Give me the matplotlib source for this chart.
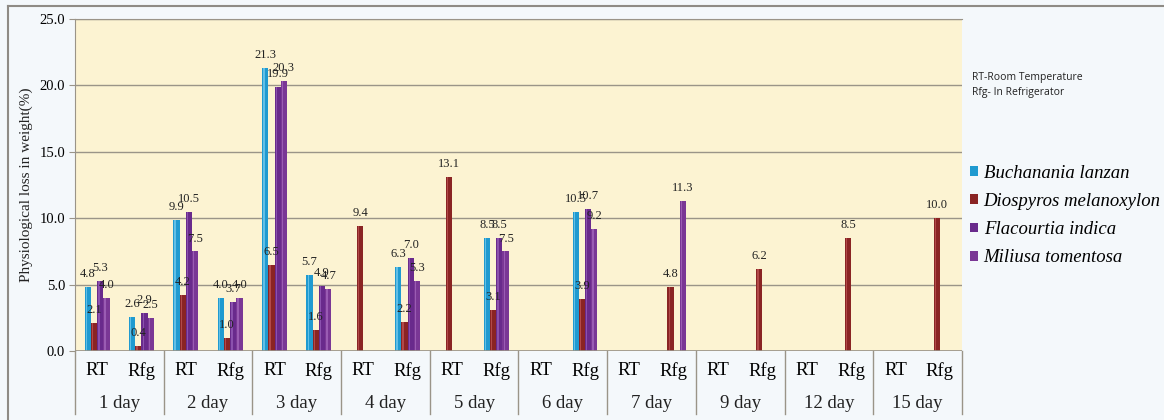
import numpy as np
import matplotlib.pyplot as plt
from matplotlib.lines import Line2D
from matplotlib.patches import Patch
import matplotlib.transforms as mtransforms

# storage days and conditions
days = ['1 day', '2 day', '3 day', '4 day', '5 day', '6 day', '7 day', '9 day', '12 day', '15 day']
conditions = ['RT', 'Rfg']

# weight loss (%) per day/condition, RT then Rfg; None = not recorded
buchanania = [4.8, 2.6, 9.9, 4.0, 21.3, 5.7, None, 6.3, None, 8.5,
              None, 10.5, None, None, None, None, None, None, None, None]
diospyros = [2.1, 0.4, 4.2, 1.0, 6.5, 1.6, 9.4, 2.2, 13.1, 3.1,
             None, 3.9, None, 4.8, None, 6.2, None, 8.5, None, 10.0]
flacourtia = [5.3, 2.9, 10.5, 3.7, 19.9, 4.9, None, 7.0, None, 8.5,
              None, 10.7, None, None, None, None, None, None, None, None]
miliusa = [4.0, 2.5, 7.5, 4.0, 20.3, 4.7, None, 5.3, None, 7.5,
           None, 9.2, None, 11.3, None, None, None, None, None, None]

species = ['Buchanania lanzan', 'Diospyros melanoxylon', 'Flacourtia indica', 'Miliusa tomentosa']
series = [buchanania, diospyros, flacourtia, miliusa]
colors = ['#1f9ad0', '#8a2424', '#692a8c', '#7a3795']
highlights = ['#7fd0f0', '#c45a5a', '#9a62bd', '#a86cc0']

serif = ['Liberation Serif', 'DejaVu Serif']

fig = plt.figure(figsize=(11.64, 4.2), dpi=100, facecolor='#f4f8fb')
ax = fig.add_axes([0.0644, 0.164, 0.762, 0.791])
ax.set_facecolor('#fcf3d2')

n = len(days) * len(conditions)
x = np.arange(n)
w = 0.14

for k, (vals, c, hc) in enumerate(zip(series, colors, highlights)):
    h = np.array([np.nan if v is None else v for v in vals], dtype=float)
    xs = x + (k - 1.5) * w
    ax.bar(xs, h, width=w, color=c, edgecolor='none', zorder=3)
    # lighter strip for a rounded look
    ax.bar(xs - w * 0.22, h, width=w * 0.22, color=hc, edgecolor='none', alpha=0.7, zorder=3)
    for xi, v in zip(xs, vals):
        if v is None:
            continue
        ax.annotate(f'{v:.1f}', (xi, v), xytext=(0, 5), textcoords='offset points',
                    ha='center', va='bottom', fontsize=9, family=serif, color='#222222', zorder=5)

ax.set_xlim(-0.5, n - 0.5)
ax.set_ylim(0, 25)
ax.set_yticks(np.arange(0, 26, 5))
ax.set_yticklabels([f'{t:.1f}' for t in np.arange(0, 26, 5)], family=serif, fontsize=10.5)
ax.yaxis.grid(True, color='#9a9488', linewidth=1.0, zorder=0)
ax.tick_params(axis='y', length=4, color='#9a9488', pad=3)
ax.set_ylabel('Physiological loss in weight(%)', family=serif, fontsize=11,
              color='#222222', labelpad=5)

for side in ['right', 'bottom']:
    ax.spines[side].set_visible(False)
ax.spines['top'].set_color('#9a9488')
ax.spines['left'].set_color('#9a9488')
ax.axhline(0, color='#9a9488', linewidth=1.2, zorder=4)

# two-level category axis
ax.set_xticks(x)
ax.set_xticklabels(conditions * len(days), family=serif, fontsize=13.5)
ax.tick_params(axis='x', length=0, pad=8)
trans = mtransforms.blended_transform_factory(ax.transData, ax.transAxes)
for i, d in enumerate(days):
    ax.text(2 * i + 0.5, -0.158, d, transform=trans, ha='center', va='center',
            family=serif, fontsize=13.5, color='#222222')
for b in range(len(days) + 1):
    ax.add_line(Line2D([2 * b - 0.5, 2 * b - 0.5], [0, -0.19], transform=trans,
                       color='#9a9488', linewidth=1.0, clip_on=False))

# condition note
fig.text(0.835, 0.797, 'RT-Room Temperature\nRfg- In Refrigerator', family=['Open Sans', 'DejaVu Sans'],
         fontsize=7.5, va='center', ha='left', color='#222222', linespacing=1.5)

handles = [Patch(facecolor=c, edgecolor='none') for c in colors]
leg = fig.legend(handles, species, loc='upper left', bbox_to_anchor=(0.819, 0.648),
                 frameon=False, prop={'family': serif, 'style': 'italic', 'size': 13.5},
                 handlelength=0.42, handleheight=0.42, handletextpad=0.3, labelspacing=0.6)

# outer frame
fig.add_artist(Line2D([0.007, 1.0], [0.985, 0.985], color='#8f8b85', linewidth=1.5))
fig.add_artist(Line2D([0.007, 0.007], [0.0, 0.985], color='#8f8b85', linewidth=1.5))

fig.savefig('out.png', dpi=100, facecolor=fig.get_facecolor())
